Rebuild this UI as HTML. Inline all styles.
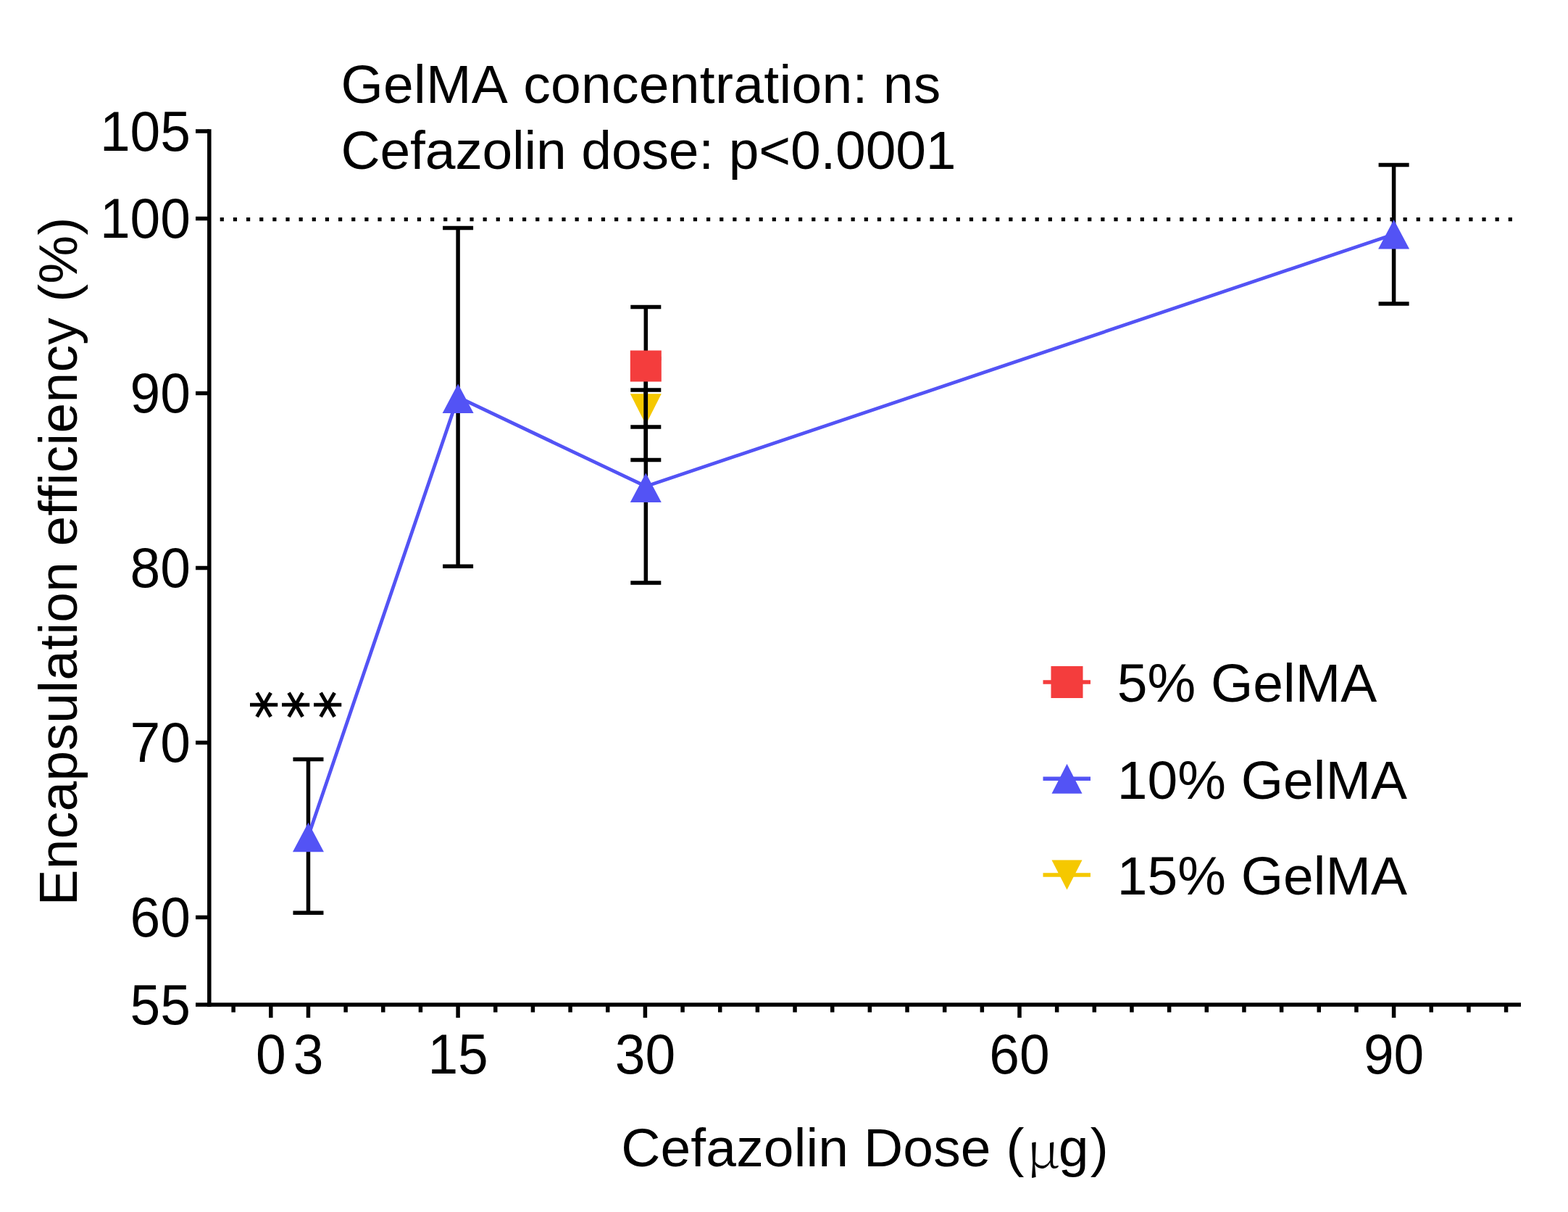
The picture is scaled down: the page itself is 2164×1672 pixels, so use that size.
<!DOCTYPE html><html><head><meta charset="utf-8"><style>html,body{margin:0;padding:0;background:#fff;}svg{display:block;}text{font-family:"Liberation Sans",Arial,sans-serif;font-size:75px;fill:#000;font-kerning:none;}</style></head><body>
<svg width="2164" height="1672" viewBox="0 0 2164 1672">
<rect width="2164" height="1672" fill="#fff"/>
<path d="M303.70 300.00h5.2v5.2h-5.2zM321.84 300.00h5.2v5.2h-5.2zM339.99 300.00h5.2v5.2h-5.2zM358.13 300.00h5.2v5.2h-5.2zM376.27 300.00h5.2v5.2h-5.2zM394.41 300.00h5.2v5.2h-5.2zM412.56 300.00h5.2v5.2h-5.2zM430.70 300.00h5.2v5.2h-5.2zM448.84 300.00h5.2v5.2h-5.2zM466.99 300.00h5.2v5.2h-5.2zM485.13 300.00h5.2v5.2h-5.2zM503.27 300.00h5.2v5.2h-5.2zM521.42 300.00h5.2v5.2h-5.2zM539.56 300.00h5.2v5.2h-5.2zM557.70 300.00h5.2v5.2h-5.2zM575.84 300.00h5.2v5.2h-5.2zM593.99 300.00h5.2v5.2h-5.2zM612.13 300.00h5.2v5.2h-5.2zM630.27 300.00h5.2v5.2h-5.2zM648.42 300.00h5.2v5.2h-5.2zM666.56 300.00h5.2v5.2h-5.2zM684.70 300.00h5.2v5.2h-5.2zM702.85 300.00h5.2v5.2h-5.2zM720.99 300.00h5.2v5.2h-5.2zM739.13 300.00h5.2v5.2h-5.2zM757.27 300.00h5.2v5.2h-5.2zM775.42 300.00h5.2v5.2h-5.2zM793.56 300.00h5.2v5.2h-5.2zM811.70 300.00h5.2v5.2h-5.2zM829.85 300.00h5.2v5.2h-5.2zM847.99 300.00h5.2v5.2h-5.2zM866.13 300.00h5.2v5.2h-5.2zM884.28 300.00h5.2v5.2h-5.2zM902.42 300.00h5.2v5.2h-5.2zM920.56 300.00h5.2v5.2h-5.2zM938.71 300.00h5.2v5.2h-5.2zM956.85 300.00h5.2v5.2h-5.2zM974.99 300.00h5.2v5.2h-5.2zM993.13 300.00h5.2v5.2h-5.2zM1011.28 300.00h5.2v5.2h-5.2zM1029.42 300.00h5.2v5.2h-5.2zM1047.56 300.00h5.2v5.2h-5.2zM1065.71 300.00h5.2v5.2h-5.2zM1083.85 300.00h5.2v5.2h-5.2zM1101.99 300.00h5.2v5.2h-5.2zM1120.14 300.00h5.2v5.2h-5.2zM1138.28 300.00h5.2v5.2h-5.2zM1156.42 300.00h5.2v5.2h-5.2zM1174.56 300.00h5.2v5.2h-5.2zM1192.71 300.00h5.2v5.2h-5.2zM1210.85 300.00h5.2v5.2h-5.2zM1228.99 300.00h5.2v5.2h-5.2zM1247.14 300.00h5.2v5.2h-5.2zM1265.28 300.00h5.2v5.2h-5.2zM1283.42 300.00h5.2v5.2h-5.2zM1301.57 300.00h5.2v5.2h-5.2zM1319.71 300.00h5.2v5.2h-5.2zM1337.85 300.00h5.2v5.2h-5.2zM1355.99 300.00h5.2v5.2h-5.2zM1374.14 300.00h5.2v5.2h-5.2zM1392.28 300.00h5.2v5.2h-5.2zM1410.42 300.00h5.2v5.2h-5.2zM1428.57 300.00h5.2v5.2h-5.2zM1446.71 300.00h5.2v5.2h-5.2zM1464.85 300.00h5.2v5.2h-5.2zM1483.00 300.00h5.2v5.2h-5.2zM1501.14 300.00h5.2v5.2h-5.2zM1519.28 300.00h5.2v5.2h-5.2zM1537.42 300.00h5.2v5.2h-5.2zM1555.57 300.00h5.2v5.2h-5.2zM1573.71 300.00h5.2v5.2h-5.2zM1591.85 300.00h5.2v5.2h-5.2zM1610.00 300.00h5.2v5.2h-5.2zM1628.14 300.00h5.2v5.2h-5.2zM1646.28 300.00h5.2v5.2h-5.2zM1664.43 300.00h5.2v5.2h-5.2zM1682.57 300.00h5.2v5.2h-5.2zM1700.71 300.00h5.2v5.2h-5.2zM1718.85 300.00h5.2v5.2h-5.2zM1737.00 300.00h5.2v5.2h-5.2zM1755.14 300.00h5.2v5.2h-5.2zM1773.28 300.00h5.2v5.2h-5.2zM1791.43 300.00h5.2v5.2h-5.2zM1809.57 300.00h5.2v5.2h-5.2zM1827.71 300.00h5.2v5.2h-5.2zM1845.86 300.00h5.2v5.2h-5.2zM1864.00 300.00h5.2v5.2h-5.2zM1882.14 300.00h5.2v5.2h-5.2zM1900.28 300.00h5.2v5.2h-5.2zM1918.43 300.00h5.2v5.2h-5.2zM1936.57 300.00h5.2v5.2h-5.2zM1954.71 300.00h5.2v5.2h-5.2zM1972.86 300.00h5.2v5.2h-5.2zM1991.00 300.00h5.2v5.2h-5.2zM2009.14 300.00h5.2v5.2h-5.2zM2027.29 300.00h5.2v5.2h-5.2zM2045.43 300.00h5.2v5.2h-5.2zM2063.57 300.00h5.2v5.2h-5.2zM2081.71 300.00h5.2v5.2h-5.2z" fill="#000"/>
<path d="M288.8 178.25V1388.75" stroke="#000" stroke-width="5.5" fill="none"/>
<path d="M270 1386.0H2099" stroke="#000" stroke-width="5.5" fill="none"/>
<path d="M270 181.00H288.8M270 301.50H288.8M270 542.50H288.8M270 783.50H288.8M270 1024.50H288.8M270 1265.50H288.8" stroke="#000" stroke-width="5.5" fill="none"/>
<path d="M322.14 1386.0V1396.5M373.80 1386.0V1404M425.46 1386.0V1404M477.12 1386.0V1396.5M528.78 1386.0V1396.5M580.44 1386.0V1396.5M632.10 1386.0V1404M683.76 1386.0V1396.5M735.42 1386.0V1396.5M787.08 1386.0V1396.5M838.74 1386.0V1396.5M890.40 1386.0V1404M942.06 1386.0V1396.5M993.72 1386.0V1396.5M1045.38 1386.0V1396.5M1097.04 1386.0V1396.5M1148.70 1386.0V1396.5M1200.36 1386.0V1396.5M1252.02 1386.0V1396.5M1303.68 1386.0V1396.5M1355.34 1386.0V1396.5M1407.00 1386.0V1404M1458.66 1386.0V1396.5M1510.32 1386.0V1396.5M1561.98 1386.0V1396.5M1613.64 1386.0V1396.5M1665.30 1386.0V1396.5M1716.96 1386.0V1396.5M1768.62 1386.0V1396.5M1820.28 1386.0V1396.5M1871.94 1386.0V1396.5M1923.60 1386.0V1404M1975.26 1386.0V1396.5M2026.92 1386.0V1396.5M2078.58 1386.0V1396.5" stroke="#000" stroke-width="5.5" fill="none"/>
<text transform="translate(263 207.8) scale(1 1.045)" text-anchor="end">105</text>
<text transform="translate(263 328.3) scale(1 1.045)" text-anchor="end">100</text>
<text transform="translate(263 569.3) scale(1 1.045)" text-anchor="end">90</text>
<text transform="translate(263 810.3) scale(1 1.045)" text-anchor="end">80</text>
<text transform="translate(263 1051.3) scale(1 1.045)" text-anchor="end">70</text>
<text transform="translate(263 1292.3) scale(1 1.045)" text-anchor="end">60</text>
<text transform="translate(263 1412.8) scale(1 1.045)" text-anchor="end">55</text>
<text transform="translate(373.8 1481.4) scale(1 1.045)" text-anchor="middle">0</text>
<text transform="translate(425.5 1481.4) scale(1 1.045)" text-anchor="middle">3</text>
<text transform="translate(632.1 1481.4) scale(1 1.045)" text-anchor="middle">15</text>
<text transform="translate(890.4 1481.4) scale(1 1.045)" text-anchor="middle">30</text>
<text transform="translate(1407.0 1481.4) scale(1 1.045)" text-anchor="middle">60</text>
<text transform="translate(1923.6 1481.4) scale(1 1.045)" text-anchor="middle">90</text>
<text x="470.4" y="141.5" textLength="827.8" lengthAdjust="spacing">GelMA concentration: ns</text>
<text x="470.4" y="232.5" textLength="849.1" lengthAdjust="spacing">Cefazolin dose: p&lt;0.0001</text>
<text transform="translate(106.4 774.6) rotate(-90)" text-anchor="middle" textLength="950" lengthAdjust="spacing">Encapsulation efficiency (%)</text>
<text x="857.2" y="1609.3" textLength="556.4" lengthAdjust="spacing">Cefazolin Dose (</text>
<text transform="translate(1416.5 1610.5) scale(1.1 1)" style="font-family:'Noto Serif CJK SC',serif;font-size:67.5px;font-weight:300">&#956;</text>
<text x="1460.8" y="1609.3" textLength="69" lengthAdjust="spacing">g)</text>
<text transform="translate(364.4 972.2) rotate(90) translate(0 19.12)" text-anchor="middle" style="font-family:'DejaVu Sans',sans-serif;font-size:61px">&#8727;</text>
<text transform="translate(408.1 972.2) rotate(90) translate(0 19.12)" text-anchor="middle" style="font-family:'DejaVu Sans',sans-serif;font-size:61px">&#8727;</text>
<text transform="translate(451.7 972.2) rotate(90) translate(0 19.12)" text-anchor="middle" style="font-family:'DejaVu Sans',sans-serif;font-size:61px">&#8727;</text>
<path d="M891.30 494.40V634.60M870.30 494.40h42M870.30 634.60h42" stroke="#000" stroke-width="5.5" fill="none"/>
<path d="M891.30 585.70L912.80 543.30H869.80z" fill="#F5C800"/>
<path d="M891.30 423.60V588.90M870.30 423.60h42M870.30 588.90h42" stroke="#000" stroke-width="5.5" fill="none"/>
<rect x="869.80" y="483.50" width="43" height="43" fill="#F43D3D"/>
<path d="M425.46 1047.50V1259.30M404.46 1047.50h42M404.46 1259.30h42M632.10 314.40V781.20M611.10 314.40h42M611.10 781.20h42M891.30 538.00V804.00M870.30 538.00h42M870.30 804.00h42M1923.60 227.40V419.10M1902.60 227.40h42M1902.60 419.10h42" stroke="#000" stroke-width="5.5" fill="none"/>
<polyline points="425.46,1153.40 632.10,547.80 891.30,671.00 1923.60,323.20" stroke="#5353F5" stroke-width="4.8" fill="none" stroke-linejoin="miter"/>
<path d="M425.46 1134.65L446.96 1175.15H403.96z" fill="#5353F5"/>
<path d="M632.10 529.55L653.60 570.05H610.60z" fill="#5353F5"/>
<path d="M891.30 652.55L912.80 693.05H869.80z" fill="#5353F5"/>
<path d="M1923.60 302.95L1945.10 343.45H1902.10z" fill="#5353F5"/>
<path d="M1439.5 941H1505" stroke="#F43D3D" stroke-width="5.5"/>
<rect x="1450.50" y="919.00" width="44" height="44" fill="#F43D3D"/>
<text x="1541.8" y="968">5% GelMA</text>
<path d="M1439.5 1074.3H1505" stroke="#5353F5" stroke-width="5.5"/>
<path d="M1472.50 1053.80L1493.50 1094.80H1451.50z" fill="#5353F5"/>
<text x="1541.8" y="1101.5">10% GelMA</text>
<path d="M1439.5 1207H1505" stroke="#F5C800" stroke-width="5.5"/>
<path d="M1472.50 1227.50L1493.50 1186.50H1451.50z" fill="#F5C800"/>
<text x="1541.8" y="1234.4">15% GelMA</text>
</svg></body></html>
